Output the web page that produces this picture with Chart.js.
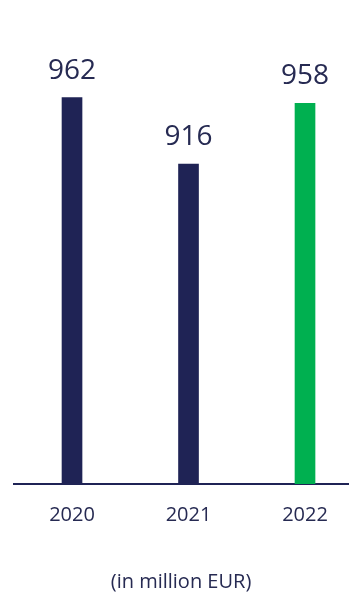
<!DOCTYPE html>
<html>
<head>
<meta charset="utf-8">
<script src="https://cdn.jsdelivr.net/npm/chart.js@4.4.1/dist/chart.umd.min.js"></script>
<style>
  html, body { margin: 0; padding: 0; background: #ffffff; }
  #wrap { width: 349px; height: 594px; }
</style>
</head>
<body>
<div id="wrap"><canvas id="revenueChart" width="349" height="594"></canvas></div>
<script>
let years = [2020, 2021, 2022];
let revenue = [962, 916, 958];
let barColors = ['#1f2355', '#1f2355', '#00b050'];

let navy = '#1f2355';
let textColor = '#262a52';
let fontFamily = '"Open Sans", "Noto Sans", sans-serif';

// values written over each bar
let valueLabels = {
  id: 'valueLabels',
  afterDatasetsDraw(chart) {
    let ctx = chart.ctx;
    let meta = chart.getDatasetMeta(0);
    ctx.save();
    ctx.font = '28px ' + fontFamily;
    ctx.fillStyle = textColor;
    ctx.textAlign = 'center';
    ctx.textBaseline = 'alphabetic';
    meta.data.forEach((bar, j) => {
      ctx.fillText(String(revenue[j]), bar.x, bar.y - 19);
    });
    ctx.restore();
  }
};

let points = years.map((year, j) => ({ x: year, y: revenue[j] }));

new Chart(document.getElementById('revenueChart'), {
  type: 'bar',
  data: {
    datasets: [{
      data: points,
      backgroundColor: barColors,
      borderWidth: 0,
      barThickness: 20
    }]
  },
  options: {
    responsive: false,
    animation: false,
    events: [],
    layout: {
      padding: { top: 40, left: 14, right: 1, bottom: 0 }
    },
    plugins: {
      legend: { display: false },
      tooltip: { enabled: false },
      title: {
        display: true,
        position: 'bottom',
        text: '(in million EUR)',
        color: textColor,
        font: { family: fontFamily, size: 20, weight: 'normal' },
        padding: { top: 24, bottom: 0 }
      }
    },
    scales: {
      x: {
        type: 'linear',
        offset: false,
        min: 2019.502,
        max: 2022.369,
        grid: { display: false, drawTicks: false },
        border: { display: true, color: navy, width: 2 },
        ticks: {
          stepSize: 1,
          includeBounds: false,
          padding: 19,
          color: textColor,
          font: { family: fontFamily, size: 20 },
          callback: (value) => String(value)
        }
      },
      y: {
        display: false,
        min: 694,
        max: 1002
      }
    }
  },
  plugins: [valueLabels]
});
</script>
</body>
</html>
